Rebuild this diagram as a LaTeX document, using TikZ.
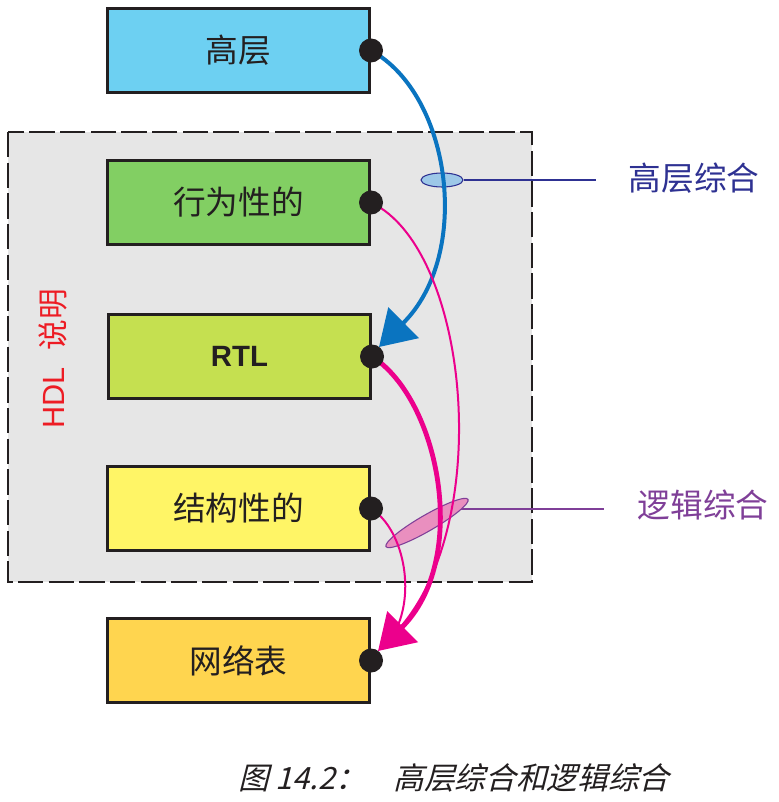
\documentclass[tikz,border=0pt]{standalone}
\usepackage{fontspec}
\usetikzlibrary{arrows.meta,shapes.geometric}
\newfontfamily\cjk{Noto Sans CJK SC}
\newfontfamily\cjkslant{Noto Sans CJK SC}[FakeSlant=0.25]
\newfontfamily\lsans{Liberation Sans}
\definecolor{frameGray}{HTML}{E6E6E6}
\definecolor{ink}{HTML}{231F20}
\definecolor{cTop}{HTML}{6DD0F2}
\definecolor{cBeh}{HTML}{82CF63}
\definecolor{cRtl}{HTML}{C5E050}
\definecolor{cStr}{HTML}{FFF566}
\definecolor{cNet}{HTML}{FFD54F}
\definecolor{arrBlue}{HTML}{0A74C0}
\definecolor{arrPink}{HTML}{EC008C}
\definecolor{labBlue}{HTML}{2E3192}
\definecolor{labPurple}{HTML}{7F3F98}
\definecolor{ellBlue}{HTML}{9DC8E8}
\definecolor{ellPink}{HTML}{E98FBF}
\definecolor{hdlRed}{HTML}{ED1C24}
\begin{document}
\begin{tikzpicture}[x=0.75pt,y=-0.75pt,
  blk/.style={draw=ink, line width=2.25pt, minimum width=196.5pt, minimum height=63pt,
    inner sep=0pt, text=ink, font=\cjk\fontsize{24.5}{24.5}\selectfont},
  dotnode/.style={circle, fill=ink, minimum size=18pt, inner sep=0pt},
  bluearr/.style={draw=arrBlue, line width=3pt, -{Triangle[length=26pt,width=32pt]}},
  pinkthick/.style={draw=arrPink, line width=3.6pt, -{Triangle[length=26pt,width=32pt]}},
  pinkthin/.style={draw=arrPink, line width=1.5pt},
  lab/.style={anchor=west, font=\cjk\fontsize{24.5}{24.5}\selectfont}]
\useasboundingbox (0,0) rectangle (778,802);
% HDL frame
\draw[fill=frameGray, draw=ink, line width=1.1pt, dash pattern=on 19pt off 4pt] (8,132) rectangle (532,582);
% boxes
\node[blk, fill=cTop] (hl) at (238.5,50.5) {高层};
\node[blk, fill=cBeh] (beh) at (238.5,202.5) {行为性的};
\node[blk, fill=cRtl, font=\lsans\bfseries\fontsize{22}{22}\selectfont] (rtl) at (239.5,356.5) {RTL};
\node[blk, fill=cStr] (str) at (238.5,508.5) {结构性的};
\node[blk, fill=cNet] (net) at (238.5,660.5) {网络表};
% HDL label
\node[rotate=90, text=hdlRed, inner sep=0pt] (hdl) at (53,359)
  {\lsans\fontsize{23}{23}\selectfont HDL\hspace{0.55em}\cjk 说明};
% labels
\node[lab, text=labBlue] (lab1) at (624,178) {高层综合};
\node[lab, text=labPurple] (lab2) at (633,505) {逻辑综合};
\coordinate (l1) at (596,180);
\coordinate (l2) at (604,509);
\coordinate (l2s) at (440,509);
% ellipses
\node[ellipse, draw=labBlue, line width=0.8pt, fill=ellBlue, minimum width=31.5pt, minimum height=10.5pt, inner sep=0pt] (e1) at (442,180) {};
\draw[labBlue, line width=0.8pt] (e1.east) -- (l1);
\draw[labPurple, line width=0.8pt] (l2s) -- (l2);
\node[ellipse, draw=labPurple, line width=0.8pt, fill=ellPink, minimum width=71pt, minimum height=12pt, inner sep=0pt, rotate=30] (e2) at (427,523) {};
% arrow tips
\coordinate (tipR) at (379,347);
\coordinate (tipN) at (378,651);
% arrows
\path[bluearr] (hl.east) .. controls (452,95) and (472,255) .. (tipR);
\path[pinkthin] (beh.east) .. controls (472,250) and (497,540) .. (388,640);
\path[pinkthin] (str.east) .. controls (405,530) and (418,600) .. (390,640);
\path[pinkthick] (rtl.east) .. controls (440,400) and (470,560) .. (tipN);
% dots
\node[dotnode] (d1) at (hl.east) {};
\node[dotnode] (d2) at (beh.east) {};
\node[dotnode] (d3) at (rtl.east) {};
\node[dotnode] (d4) at (str.east) {};
\node[dotnode] (d5) at (net.east) {};
% caption
\node[anchor=west, text=ink, inner sep=0pt, font=\cjkslant\fontsize{23}{23}\selectfont] (cap) at (238,778)
  {图 14.2：\hspace{0.9em}高层综合和逻辑综合};
\end{tikzpicture}
\end{document}
